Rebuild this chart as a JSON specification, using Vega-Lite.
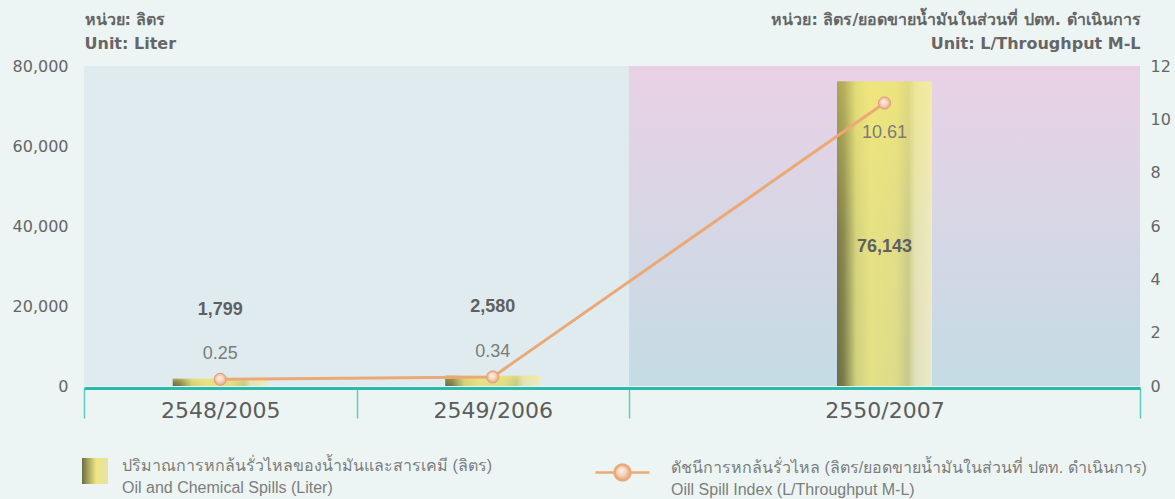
{
  "$schema": "https://vega.github.io/schema/vega-lite/v6.json",
  "width": 1056,
  "height": 320,
  "autosize": "none",
  "padding": {"left": 84, "top": 66, "right": 35, "bottom": 113},
  "background": "#ecf5f3",
  "config": {"view": {"stroke": null}, "font": "DejaVu Sans", "style": {"guide-label": {"lineHeight": 22}}},
  "data": {"values": [
    {"year": 2005, "label": "2548/2005", "spill": 1799, "index": 0.25},
    {"year": 2006, "label": "2549/2006", "spill": 2580, "index": 0.34},
    {"year": 2007, "label": "2550/2007", "spill": 76143, "index": 10.61}
  ]},
  "resolve": {"scale": {"y": "independent"}, "axis": {"x": "independent", "y": "independent"}},
  "layer": [
    {
      "mark": {"type": "rect", "color": "#e0ebef"},
      "transform": [{"filter": "datum.year === 2005"}],
      "encoding": {
        "x": {"datum": 2004.5, "type": "quantitative",
          "scale": {"domain": [2004.5, 2006.5, 2007.5], "range": [0, 545, 1056], "nice": false, "zero": false, "padding": 0},
          "axis": {"orient": "bottom", "values": [2004.5, 2005.5, 2006.5, 2007.5], "labels": false, "domain": false, "ticks": true, "tickSize": 30, "tickColor": "#62cbbe", "tickWidth": 1.5, "grid": false, "title": null, "offset": 2}},
        "x2": {"datum": 2006.5},
        "y": {"datum": 0, "type": "quantitative", "scale": {"domain": [0, 80000], "nice": false}, "axis": null},
        "y2": {"datum": 80000}
      }
    },
    {
      "mark": {"type": "rect", "color": {"gradient": "linear", "x1": 0, "y1": 0, "x2": 0, "y2": 1, "stops": [{"offset": 0, "color": "#e9d1e5"}, {"offset": 1, "color": "#c4dce5"}]}},
      "transform": [{"filter": "datum.year === 2007"}],
      "encoding": {
        "x": {"datum": 2006.5, "type": "quantitative", "axis": null},
        "x2": {"datum": 2007.5},
        "y": {"datum": 0, "type": "quantitative", "scale": {"domain": [0, 80000], "nice": false}, "axis": null},
        "y2": {"datum": 80000}
      }
    },
    {
      "mark": {"type": "bar", "width": 95, "color": {"gradient": "linear", "x1": 0, "y1": 0, "x2": 1, "y2": 0, "stops": [{"offset": 0, "color": "#6a6c44"}, {"offset": 0.07, "color": "#7c7d4b"}, {"offset": 0.2, "color": "#cfd07f"}, {"offset": 0.35, "color": "#e3e086"}, {"offset": 0.62, "color": "#dedc8b"}, {"offset": 0.75, "color": "#c7c98b"}, {"offset": 0.82, "color": "#e0e1bb"}, {"offset": 1, "color": "#ebeacc"}]}},
      "encoding": {
        "x": {"field": "year", "type": "quantitative",
          "scale": {"domain": [2004.5, 2006.5, 2007.5], "range": [0, 545, 1056], "nice": false, "zero": false, "padding": 0},
          "axis": {"orient": "bottom", "values": [2005, 2006, 2007], "labelExpr": "datum.value === 2005 ? '2548/2005' : datum.value === 2006 ? '2549/2006' : '2550/2007'", "ticks": false, "tickSize": 0, "domain": true, "domainColor": "#2bb9a9", "domainWidth": 3, "labelFontSize": 22, "labelFont": "DejaVu Sans", "labelColor": "#5c5c5c", "labelBaseline": "alphabetic", "labelPadding": 29, "grid": false, "title": null, "offset": 2}},
        "y": {"field": "spill", "type": "quantitative", "scale": {"domain": [0, 80000], "nice": false},
          "axis": {"orient": "left", "values": [0, 20000, 40000, 60000, 80000], "format": ",.0f", "domain": false, "ticks": false, "grid": false, "labelFontSize": 16, "labelFont": "DejaVu Sans", "labelColor": "#666666", "labelPadding": 16,
            "title": ["หน่วย: ลิตร", "Unit: Liter"], "titleAngle": 0, "titleAlign": "left", "titleBaseline": "alphabetic", "titleX": 0, "titleY": -42, "titleFontSize": 16, "titleFont": "DejaVu Sans", "titleColor": "#666666", "titleFontWeight": "bold", "titleLineHeight": 24}}
      }
    },
    {
      "mark": {"type": "bar", "width": 95, "color": {"gradient": "linear", "x1": 0, "y1": 0, "x2": 0, "y2": 1, "stops": [{"offset": 0, "color": "rgba(255,236,110,0.45)"}, {"offset": 0.5, "color": "rgba(255,236,110,0.12)"}, {"offset": 1, "color": "rgba(255,236,110,0)"}]}},
      "encoding": {
        "x": {"field": "year", "type": "quantitative", "axis": null},
        "y": {"field": "spill", "type": "quantitative", "scale": {"domain": [0, 80000], "nice": false}, "axis": null}
      }
    },
    {
      "mark": {"type": "point", "filled": true, "strokeWidth": 0, "opacity": 1,
        "fill": {"gradient": "linear", "x1": 0, "y1": 0, "x2": 1, "y2": 0, "stops": [{"offset": 0, "color": "#6a6c44"}, {"offset": 0.25, "color": "#a8a862"}, {"offset": 0.55, "color": "#efe682"}, {"offset": 1, "color": "#e6e2a8"}]}},
      "transform": [{"filter": "false"}],
      "encoding": {
        "shape": {"datum": "ปริมาณการหกล้นรั่วไหลของน้ำมันและสารเคมี (ลิตร)|Oil and Chemical Spills (Liter)", "type": "nominal",
          "scale": {"range": ["square"]},
          "legend": {"orient": "none", "legendX": -2, "legendY": 392, "title": null, "padding": 0, "symbolType": "square", "symbolSize": 676, "symbolStrokeWidth": 0,
            "labelExpr": "split(datum.label, '|')", "labelFont": "Liberation Sans", "labelFontSize": 16, "labelColor": "#7d7d7d", "labelOffset": 14, "labelLimit": 700, "labelBaseline": "alphabetic"}}
      }
    },
    {
      "mark": {"type": "line", "stroke": "#eba977", "strokeWidth": 3},
      "encoding": {
        "x": {"field": "year", "type": "quantitative", "axis": null},
        "y": {"field": "index", "type": "quantitative", "scale": {"domain": [0, 12], "nice": false},
          "axis": {"orient": "right", "values": [0, 2, 4, 6, 8, 10, 12], "domain": false, "ticks": false, "grid": false, "labelFontSize": 16, "labelFont": "DejaVu Sans", "labelColor": "#666666", "labelPadding": 10,
            "title": ["หน่วย: ลิตร/ยอดขายน้ำมันในส่วนที่ ปตท. ดำเนินการ", "Unit: L/Throughput M-L"], "titleAngle": 0, "titleAlign": "right", "titleBaseline": "alphabetic", "titleX": 0, "titleY": -42, "titleFontSize": 16, "titleFont": "DejaVu Sans", "titleColor": "#666666", "titleFontWeight": "bold", "titleLineHeight": 24}}
      }
    },
    {
      "mark": {"type": "point", "filled": true, "size": 150, "stroke": "#e49f76", "strokeWidth": 1, "opacity": 1,
        "fill": {"gradient": "radial", "x1": 0.42, "y1": 0.38, "r1": 0, "x2": 0.5, "y2": 0.5, "r2": 0.55, "stops": [{"offset": 0, "color": "#fff4ec"}, {"offset": 0.5, "color": "#f6d3bd"}, {"offset": 1, "color": "#e39e74"}]}},
      "encoding": {
        "x": {"field": "year", "type": "quantitative", "axis": null},
        "y": {"field": "index", "type": "quantitative", "scale": {"domain": [0, 12], "nice": false}, "axis": null}
      }
    },
    {
      "mark": {"type": "line", "strokeWidth": 2.5,
        "fill": {"gradient": "radial", "x1": 0.47, "y1": 0.45, "r1": 0, "x2": 0.5, "y2": 0.5, "r2": 0.16, "stops": [{"offset": 0, "color": "#fff4ec"}, {"offset": 0.5, "color": "#f6d3bd"}, {"offset": 1, "color": "#e39e74"}]}},
      "transform": [{"filter": "false"}],
      "encoding": {
        "stroke": {"datum": "ดัชนีการหกล้นรั่วไหล (ลิตร/ยอดขายน้ำมันในส่วนที่ ปตท. ดำเนินการ)|Oill Spill Index (L/Throughput M-L)", "type": "nominal",
          "scale": {"range": ["#eba977"]},
          "legend": {"orient": "none", "legendX": 510, "legendY": 378, "title": null, "padding": 0,
            "symbolType": "M-1,0H-0.296M0.296,0H1M0.296,0A0.296,0.296,0,1,1,-0.296,0A0.296,0.296,0,1,1,0.296,0Z", "symbolSize": 2916, "symbolStrokeWidth": 2.5,
            "labelExpr": "split(datum.label, '|')", "labelFont": "Liberation Sans", "labelFontSize": 16, "labelColor": "#7d7d7d", "labelOffset": 20, "labelLimit": 700, "labelBaseline": "alphabetic"}}
      }
    },
    {
      "mark": {"type": "text", "font": "Liberation Sans", "fontWeight": "bold", "fontSize": 18, "color": "#606060", "baseline": "alphabetic", "dy": -64},
      "transform": [{"filter": "datum.year < 2007"}],
      "encoding": {
        "x": {"field": "year", "type": "quantitative", "axis": null},
        "y": {"field": "spill", "type": "quantitative", "scale": {"domain": [0, 80000], "nice": false}, "axis": null},
        "text": {"field": "spill", "type": "quantitative", "format": ","}
      }
    },
    {
      "mark": {"type": "text", "font": "Liberation Sans", "fontWeight": "bold", "fontSize": 18, "color": "#606060", "baseline": "alphabetic", "dy": 171},
      "transform": [{"filter": "datum.year === 2007"}],
      "encoding": {
        "x": {"field": "year", "type": "quantitative", "axis": null},
        "y": {"field": "spill", "type": "quantitative", "scale": {"domain": [0, 80000], "nice": false}, "axis": null},
        "text": {"field": "spill", "type": "quantitative", "format": ","}
      }
    },
    {
      "mark": {"type": "text", "font": "Liberation Sans", "fontSize": 18, "color": "#7b7b7b", "baseline": "alphabetic", "dy": -20},
      "transform": [{"filter": "datum.year < 2007"}],
      "encoding": {
        "x": {"field": "year", "type": "quantitative", "axis": null},
        "y": {"field": "index", "type": "quantitative", "scale": {"domain": [0, 12], "nice": false}, "axis": null},
        "text": {"field": "index", "type": "quantitative", "format": ".2f"}
      }
    },
    {
      "mark": {"type": "text", "font": "Liberation Sans", "fontSize": 18, "color": "#7b7b7b", "baseline": "alphabetic", "dy": 35},
      "transform": [{"filter": "datum.year === 2007"}],
      "encoding": {
        "x": {"field": "year", "type": "quantitative", "axis": null},
        "y": {"field": "index", "type": "quantitative", "scale": {"domain": [0, 12], "nice": false}, "axis": null},
        "text": {"field": "index", "type": "quantitative", "format": ".2f"}
      }
    }
  ]
}
